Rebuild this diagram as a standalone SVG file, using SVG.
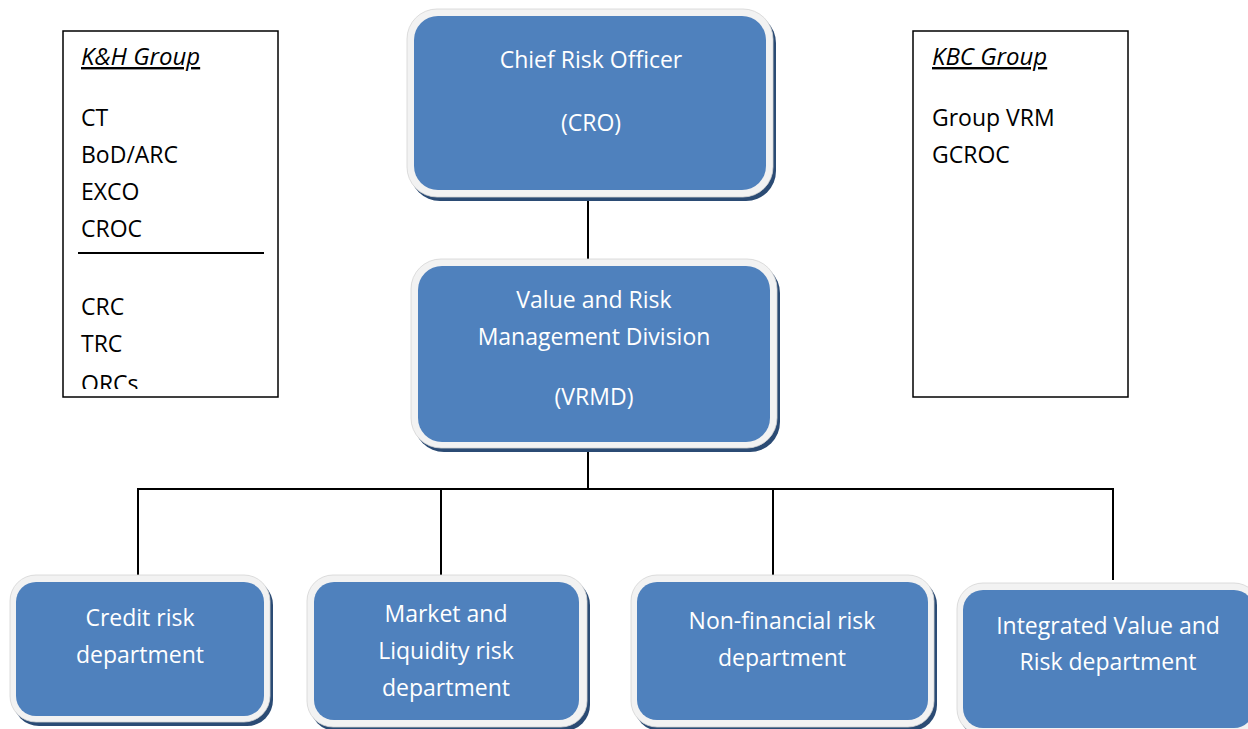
<svg xmlns="http://www.w3.org/2000/svg" width="1248" height="729" viewBox="0 0 1248 729">
<defs>
<style>
.shadow{fill:#2b4b74}
.outer{fill:#f2f2f2;stroke:#d4d4d4;stroke-width:0.8}
.blue{fill:#4f81bd}
.wt{font-family:"Open Sans","Liberation Sans",sans-serif;font-size:23px;fill:#ffffff;text-anchor:middle}
.bt{font-family:"Open Sans","Liberation Sans",sans-serif;font-size:23px;fill:#000000}
.hd{font-style:italic;text-decoration:underline;font-size:24px}
.conn{stroke:#000;stroke-width:2;fill:none}
.frame{fill:#fff;stroke:#000;stroke-width:1.5}
</style>
<clipPath id="kh-clip"><rect x="63" y="31" width="215" height="358"/></clipPath>
</defs>
<rect width="1248" height="729" fill="#ffffff"/>

<g id="connectors">
<line class="conn" x1="588" y1="197" x2="588" y2="262"/>
<line class="conn" x1="588" y1="445" x2="588" y2="489"/>
<polyline class="conn" points="138,577 138,489 1113,489 1113,580"/>
<line class="conn" x1="441" y1="489" x2="441" y2="578"/>
<line class="conn" x1="773" y1="489" x2="773" y2="578"/>
</g>

<g id="kh-group">
<rect class="frame" x="63" y="31" width="215" height="366"/>
<g clip-path="url(#kh-clip)">
<text class="bt hd" x="81" y="65">K&amp;H Group</text>
<text class="bt" x="81" y="126">CT</text>
<text class="bt" x="81" y="163">BoD/ARC</text>
<text class="bt" x="81" y="200">EXCO</text>
<text class="bt" x="81" y="237">CROC</text>
<line x1="78" y1="253" x2="264" y2="253" stroke="#000" stroke-width="2"/>
<text class="bt" x="81" y="315">CRC</text>
<text class="bt" x="81" y="352">TRC</text>
<text class="bt" x="81" y="392">ORCs</text>
</g>
</g>

<g id="kbc-group">
<rect class="frame" x="913" y="31" width="215" height="366"/>
<text class="bt hd" x="932" y="65">KBC Group</text>
<text class="bt" x="932" y="126">Group VRM</text>
<text class="bt" x="932" y="163">GCROC</text>
</g>

<g id="cro">
<rect class="shadow" x="410" y="13" width="366" height="188" rx="30"/>
<rect class="outer" x="407" y="9" width="366" height="188" rx="30"/>
<rect class="blue" x="414" y="16" width="352" height="174" rx="24"/>
<text class="wt" x="591" y="68">Chief Risk Officer</text>
<text class="wt" x="591" y="131">(CRO)</text>
</g>

<g id="vrmd">
<rect class="shadow" x="414" y="263" width="366" height="189" rx="30"/>
<rect class="outer" x="411" y="259" width="366" height="189" rx="30"/>
<rect class="blue" x="418" y="266" width="352" height="176" rx="24"/>
<text class="wt" x="594" y="308">Value and Risk</text>
<text class="wt" x="594" y="345">Management Division</text>
<text class="wt" x="594" y="405">(VRMD)</text>
</g>

<g id="credit">
<rect class="shadow" x="13" y="579" width="260" height="147" rx="26"/>
<rect class="outer" x="10" y="575" width="260" height="147" rx="26"/>
<rect class="blue" x="16" y="582" width="248" height="134" rx="20"/>
<text class="wt" x="140" y="626">Credit risk</text>
<text class="wt" x="140" y="663">department</text>
</g>

<g id="market">
<rect class="shadow" x="310" y="579" width="280" height="152" rx="26"/>
<rect class="outer" x="307" y="575" width="280" height="152" rx="26"/>
<rect class="blue" x="314" y="582" width="265" height="138" rx="20"/>
<text class="wt" x="446" y="622">Market and</text>
<text class="wt" x="446" y="659">Liquidity risk</text>
<text class="wt" x="446" y="696">department</text>
</g>

<g id="nonfinancial">
<rect class="shadow" x="634" y="579" width="303" height="152" rx="26"/>
<rect class="outer" x="631" y="575" width="303" height="152" rx="26"/>
<rect class="blue" x="637" y="582" width="291" height="138" rx="20"/>
<text class="wt" x="782" y="629">Non-financial risk</text>
<text class="wt" x="782" y="666">department</text>
</g>

<g id="integrated">
<rect class="shadow" x="960" y="587" width="303" height="152" rx="26"/>
<rect class="outer" x="957" y="583" width="303" height="152" rx="26"/>
<rect class="blue" x="963" y="590" width="291" height="138" rx="20"/>
<text class="wt" x="1108" y="634">Integrated Value and</text>
<text class="wt" x="1108" y="670">Risk department</text>
</g>
</svg>
